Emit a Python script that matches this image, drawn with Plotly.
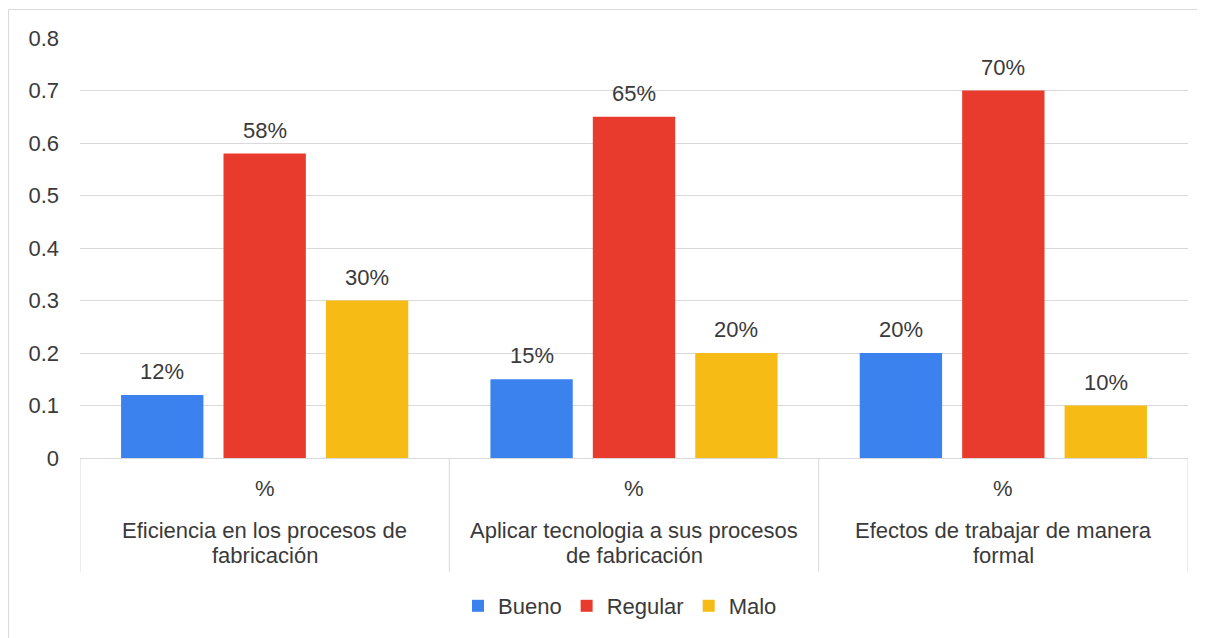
import plotly.graph_objects as go

categories = ["Eficiencia en los procesos de<br>fabricación",
              "Aplicar tecnologia a sus procesos<br>de fabricación",
              "Efectos de trabajar de manera<br>formal"]
sub_labels = ["%", "%", "%"]
series_names = ["Bueno", "Regular", "Malo"]
bueno = [0.12, 0.15, 0.20]
regular = [0.58, 0.65, 0.70]
malo = [0.30, 0.20, 0.10]
colors = ["#3b82ee", "#e93b2d", "#f6bb14"]
ytick_vals = [0, 0.1, 0.2, 0.3, 0.4, 0.5, 0.6, 0.7, 0.8]
ytick_text = ["0", "0.1", "0.2", "0.3", "0.4", "0.5", "0.6", "0.7", "0.8"]

FONT = "Liberation Sans, Arial, sans-serif"
FS = 22
TXT = "#3a3a3a"
GRID = "#d9d9d9"

# page body has an 8px margin; size the figure so the plot lands where the reference has it
OFF = 8
W, H = 1205 - OFF, 638 - OFF
PL, PR, PT, PB = 80, 1188, 38, 459   # plot area in page pixels
ML, MR, MT, MB = PL - OFF, 1205 - PR, PT - OFF, 638 - PB
plot_w = W - ML - MR
plot_h = H - MT - MB
BARGAP = 0.168
BARGROUPGAP = 0.196


def py(pix):
    return (PB - pix) / plot_h


def px(pix):
    return (pix - PL) / plot_w


xkeys = [0, 1, 2]
fig = go.Figure()
for name, vals, col in zip(series_names, [bueno, regular, malo], colors):
    fig.add_trace(go.Bar(x=xkeys, y=vals, name=name, marker=dict(color=col, line=dict(width=0)),
                         hoverinfo="skip"))

slot_px = plot_w / len(categories) * (1 - BARGAP) / len(series_names)
annotations = []
for si, vals in enumerate([bueno, regular, malo]):
    for ci, v in enumerate(vals):
        annotations.append(dict(x=xkeys[ci], y=v, xref="x", yref="y", text=f"{round(v*100)}%",
                                showarrow=False, yanchor="bottom", yshift=9,
                                xshift=(si - 1) * slot_px,
                                font=dict(family=FONT, size=FS, color=TXT)))

for ci, (cat, sub) in enumerate(zip(categories, sub_labels)):
    annotations.append(dict(x=xkeys[ci], y=py(490), xref="x", yref="paper", text=sub,
                            showarrow=False, yanchor="middle",
                            font=dict(family=FONT, size=FS, color=TXT)))
    for li, line in enumerate(cat.split("<br>")):
        annotations.append(dict(x=xkeys[ci], y=py(532 + 25 * li), xref="x", yref="paper",
                                text=line, showarrow=False, yanchor="middle",
                                font=dict(family=FONT, size=FS, color=TXT)))

shapes = []
for xb in [-0.5, 0.5, 1.5, 2.5]:
    shapes.append(dict(type="line", xref="x", yref="paper", x0=xb, x1=xb, y0=0, y1=py(573),
                       line=dict(color=GRID, width=1)))
# outer chart border
shapes.append(dict(type="rect", xref="paper", yref="paper",
                   x0=px(8.5), x1=px(1198), y0=py(645), y1=py(9.5),
                   line=dict(color="#d9d9d9", width=1), layer="below"))

fig.update_layout(
    width=W, height=H,
    margin=dict(l=ML, r=MR, t=MT, b=MB),
    paper_bgcolor="white", plot_bgcolor="white",
    barmode="group", bargap=BARGAP, bargroupgap=BARGROUPGAP,
    font=dict(family=FONT, size=FS, color=TXT),
    xaxis=dict(range=[-0.5, 2.5], showticklabels=False, ticks="", showgrid=False,
               zeroline=False, showline=True, linecolor=GRID, linewidth=1, fixedrange=True),
    yaxis=dict(range=[0, 0.8], tickvals=ytick_vals, ticktext=ytick_text, showgrid=True,
               gridcolor=GRID, gridwidth=1, zeroline=False, showline=False, ticks="",
               ticklabelstandoff=20, tickfont=dict(family=FONT, size=FS, color=TXT)),
    legend=dict(orientation="h", x=px(620), xanchor="center", y=py(606),
                yanchor="middle", font=dict(family=FONT, size=FS, color=TXT),
                itemwidth=30, traceorder="normal", bgcolor="rgba(0,0,0,0)"),
    annotations=annotations, shapes=shapes, showlegend=True,
)

fig.write_html("out.html")
